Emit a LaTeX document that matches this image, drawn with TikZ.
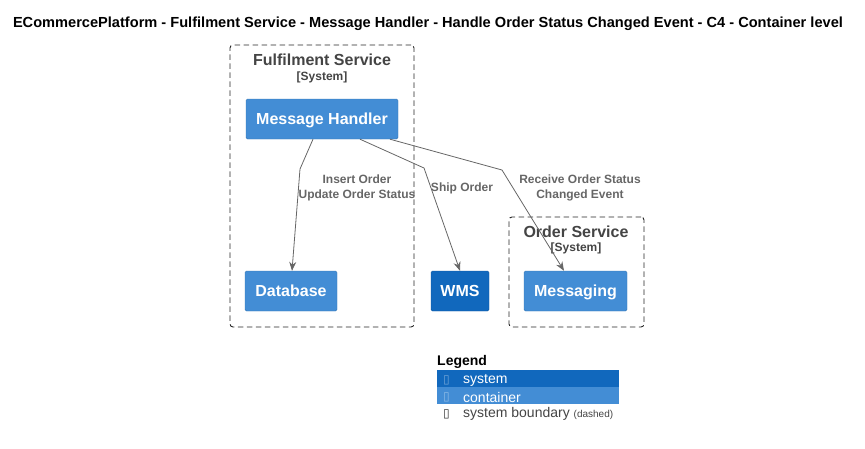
\documentclass[tikz,border=0pt]{standalone}
\usepackage{fontspec}
\setmainfont{Liberation Sans}
\newfontfamily\symfont{DejaVu Sans}
\usetikzlibrary{arrows.meta, positioning}
\definecolor{sysblue}{HTML}{1168BD}
\definecolor{contblue}{HTML}{438DD5}
\definecolor{bndtext}{HTML}{444444}
\definecolor{reltext}{HTML}{666666}

\begin{document}
\begin{tikzpicture}[
			x=1pt, y=-1pt,
			container/.style={draw=contblue!85!black, fill=contblue, rounded corners=1.5pt, text=white,
				font=\fontsize{16}{18}\selectfont\bfseries, inner sep=0pt, minimum height=40pt, text depth=0pt},
			extsystem/.style={container, draw=sysblue!85!black, fill=sysblue},
			boundary/.style={draw=black!85, line width=0.9pt, dash pattern=on 5.5pt off 3.5pt, rounded corners=3pt, inner sep=0pt},
			boundtitle/.style={text=bndtext, font=\fontsize{16}{18}\selectfont\bfseries, inner sep=0pt},
			boundtag/.style={text=bndtext, font=\fontsize{12}{13}\selectfont\bfseries, inner sep=0pt},
			rel/.style={draw=reltext, line width=0.8pt, -{Stealth[length=9pt, width=7pt]}},
			rellabel/.style={text=reltext, font=\fontsize{12}{14.5}\selectfont\bfseries, align=center, inner sep=0pt},
			legendrow/.style={minimum width=182pt, minimum height=17pt, inner sep=0pt, anchor=north west,
				text=white, font=\fontsize{14}{15}\selectfont}
			]
			\useasboundingbox (0,0) rectangle (865,448);
			
			% Title
			\node (title) [inner sep=0pt, font=\fontsize{14.6}{16}\selectfont\bfseries] at (428,23.5)
				{ECommercePlatform - Fulfilment Service - Message Handler - Handle Order Status Changed Event - C4 - Container level};
			
			% Boundaries
			\node (fulfilment) [boundary, minimum width=184pt, minimum height=282pt] at (322,186) {};
			\node (fulfilmentname) [boundtitle] at (322,60) {Fulfilment Service};
			\node (fulfilmenttag) [boundtag] at (322,77) {[System]};
			\node (orders) [boundary, minimum width=135pt, minimum height=110pt] at (576.5,272) {};
			\node (ordersname) [boundtitle] at (576,232) {Order Service};
			\node (orderstag) [boundtag] at (576,248) {[System]};
			
			% Nodes
			\node (handler) [container, minimum width=152pt] at (322,119) {Message Handler};
			\node (database) [container, minimum width=92pt] at (291,291) {Database};
			\node (wms) [extsystem, minimum width=58pt] at (460,291) {WMS};
			\node (messaging) [container, minimum width=103pt] at (575.5,291) {Messaging};
			
			% Bends
			\coordinate (bendDb) at (300,169);
			\coordinate (bendWms) at (424,168);
			\coordinate (bendMsg) at (502,170);
			
			% Connections
			\draw [rel] (handler.south -| 313,0) -- (bendDb) -- (database.north -| 292,0);
			\draw [rel] (handler.south -| 360,0) -- (bendWms) -- (wms.north);
			\draw [rel] (handler.south -| 390,0) -- (bendMsg) -- (messaging.north -| 564,0);
			
			% Labels
			\node (dblabel) [rellabel] at (357,188) {Insert Order\\Update Order Status};
			\node (wmslabel) [rellabel] at (462,188) {Ship Order};
			\node (msglabel) [rellabel] at (580,188) {Receive Order Status\\Changed Event};
			
			% Legend
			\node (legend) [anchor=west, inner sep=0pt, font=\fontsize{14}{15}\selectfont\bfseries] at (437,362) {Legend};
			\node (legsystem) [legendrow, fill=sysblue] at (437,370) {};
			\node (legcontainer) [legendrow, fill=contblue] at (437,387) {};
			\node [anchor=west, inner sep=0pt, text=sysblue!60!white, font=\symfont\fontsize{12}{13}\selectfont] at (443,380) {▯};
			\node [anchor=west, inner sep=0pt, text=white, font=\fontsize{14}{15}\selectfont] at (463,380) {system};
			\node [anchor=west, inner sep=0pt, text=contblue!60!white, font=\symfont\fontsize{12}{13}\selectfont] at (443,397) {▯};
			\node [anchor=west, inner sep=0pt, text=white, font=\fontsize{14}{15}\selectfont] at (463,397) {container};
			\node [anchor=west, inner sep=0pt, text=black!80, font=\symfont\fontsize{12}{13}\selectfont] at (443,414) {▯};
			\node (legboundary) [anchor=west, inner sep=0pt, text=bndtext, font=\fontsize{14}{15}\selectfont] at (463,414)
				{system boundary {\fontsize{10}{11}\selectfont(dashed)}};
			
		\end{tikzpicture}
\end{document}
